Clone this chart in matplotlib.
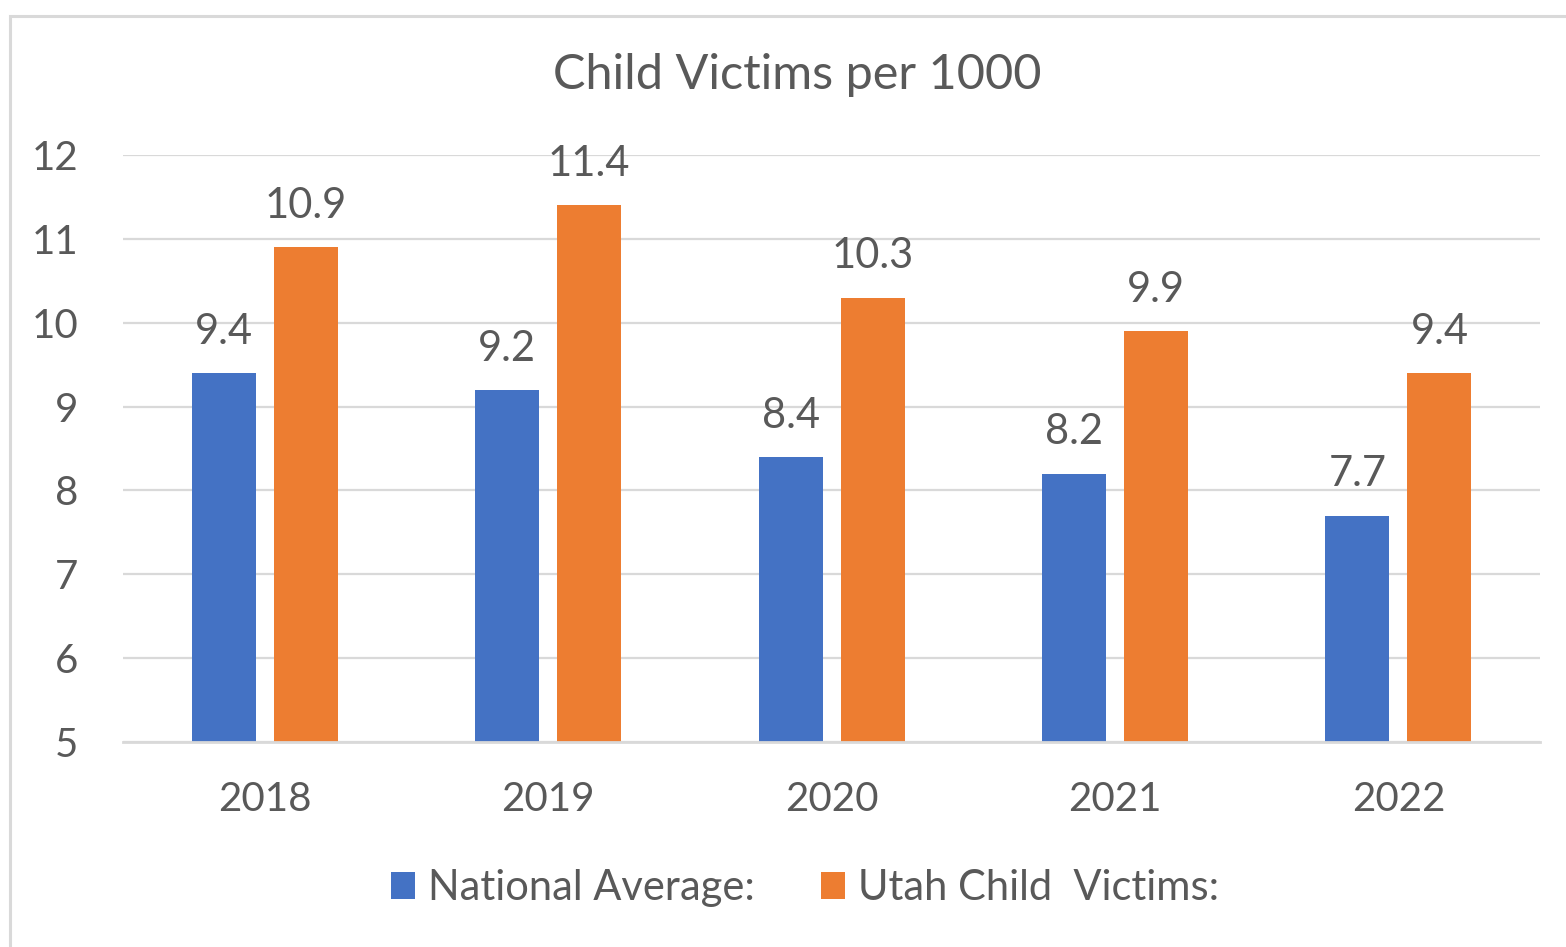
import matplotlib.pyplot as plt
import numpy as np
from matplotlib.patches import Rectangle

years = ['2018', '2019', '2020', '2021', '2022']
national = [9.4, 9.2, 8.4, 8.2, 7.7]
utah = [10.9, 11.4, 10.3, 9.9, 9.4]
series_names = ['National Average:', 'Utah Child  Victims:']

blue = '#4472C4'
orange = '#ED7D31'
text_col = '#595959'
grid_col = '#D9D9D9'

plt.rcParams['font.family'] = ['Lato', 'DejaVu Sans']

fig = plt.figure(figsize=(15.66, 9.47), dpi=100)
ax = fig.add_axes([0.0785, 0.2165, 0.905, 0.6198])

x = np.arange(len(years))
w = 0.2257
off = 0.1446
b1 = ax.bar(x - off, national, w, bottom=0, color=blue, label=series_names[0], zorder=3)
b2 = ax.bar(x + off, utah, w, bottom=0, color=orange, label=series_names[1], zorder=3)

for bars, vals in ((b1, national), (b2, utah)):
    for r, v in zip(bars, vals):
        ax.annotate(f'{v}', (r.get_x() + r.get_width() / 2, v), xytext=(0, 16),
                    textcoords='offset points', ha='center', va='bottom',
                    fontsize=30, color=text_col)

ax.set_ylim(5, 12)
ax.set_xlim(-0.5, 4.5)
ax.set_yticks(range(5, 13))
ax.set_xticks(x)
ax.set_xticklabels(years)
ax.tick_params(axis='both', length=0, labelsize=29, labelcolor=text_col)
ax.tick_params(axis='x', pad=28)
ax.tick_params(axis='y', pad=32)
ax.grid(axis='y', color=grid_col, linewidth=1.6, zorder=0)
for s in ['top', 'right', 'left']:
    ax.spines[s].set_visible(False)
ax.spines['bottom'].set_color(grid_col)
ax.spines['bottom'].set_linewidth(2)
ax.spines['bottom'].set_zorder(4)

fig.text(0.509, 0.921, 'Child Victims per 1000', ha='center', va='center',
         fontsize=35, color=text_col)

leg = fig.legend(handles=[b1, b2], loc='center', bbox_to_anchor=(0.514, 0.062),
                 ncol=2, frameon=False, fontsize=30, handlelength=0.58,
                 handleheight=0.6, handletextpad=0.3, columnspacing=1.6)
for t in leg.get_texts():
    t.set_color(text_col)

# outer chart border
fig.patches.append(Rectangle((10 / 1566, -0.01), 1.02, 0.9826 + 0.01,
                             transform=fig.transFigure, fill=False,
                             edgecolor=grid_col, linewidth=2.2))

fig.savefig('out.png', dpi=100)
